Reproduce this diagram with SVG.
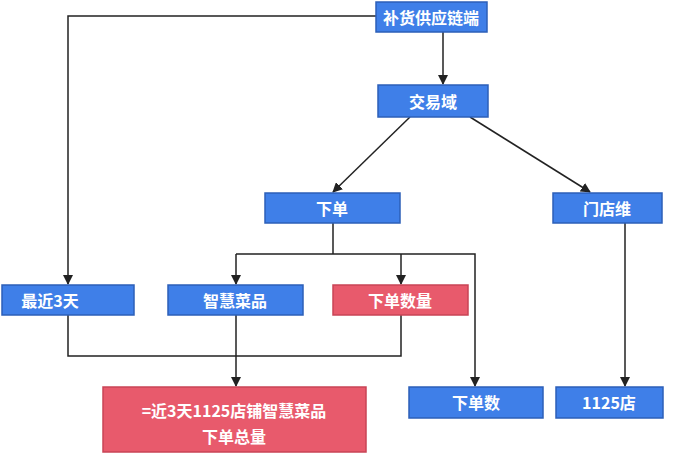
<svg xmlns="http://www.w3.org/2000/svg" width="692" height="455" viewBox="0 0 692 455">
<style>
.b{fill:#3f7fe8;stroke:#2c5fb8;stroke-width:1.5}
.r{fill:#e85a6c;stroke:#c94456;stroke-width:1.5}
text{font-family:"Noto Sans CJK SC","Noto Sans",sans-serif;font-size:16px;font-weight:bold;fill:#fff;text-anchor:middle;dominant-baseline:central}
.c line,.c polyline{stroke:#222;stroke-width:1.5;fill:none}
</style>
<defs><marker id="a" markerWidth="10" markerHeight="10" refX="9" refY="5" orient="auto" markerUnits="userSpaceOnUse"><path d="M0,0 L10,5 L0,10 z" fill="#222"/></marker></defs>
<rect width="692" height="455" fill="#fff"/>
<g class="c">
<polyline points="376,16 68,16 68,284" marker-end="url(#a)"/>
<line x1="443" y1="32" x2="443" y2="84" marker-end="url(#a)"/>
<line x1="410" y1="117" x2="333" y2="192" marker-end="url(#a)"/>
<line x1="470" y1="117" x2="590" y2="192" marker-end="url(#a)"/>
<polyline points="333,223 333,254"/>
<polyline points="236,254 475,254 475,386" marker-end="url(#a)"/>
<line x1="236" y1="254" x2="236" y2="284" marker-end="url(#a)"/>
<line x1="401" y1="254" x2="401" y2="284" marker-end="url(#a)"/>
<polyline points="68,315 68,356 401,356 401,315"/>
<line x1="236" y1="315" x2="236" y2="386" marker-end="url(#a)"/>
<line x1="625" y1="223" x2="625" y2="386" marker-end="url(#a)"/>
</g>
<g id="n1"><rect class="b" x="376" y="2" width="111" height="30"/><text x="431" y="17">补货供应链端</text></g>
<g id="n2"><rect class="b" x="378" y="85" width="110" height="32"/><text x="433" y="101">交易域</text></g>
<g id="n3"><rect class="b" x="265" y="193" width="135" height="30"/><text x="332" y="208">下单</text></g>
<g id="n4"><rect class="b" x="553" y="193" width="109" height="30"/><text x="607" y="208">门店维</text></g>
<g id="n5"><rect class="b" x="2" y="285" width="132" height="30"/><text x="50" y="300">最近3天</text></g>
<g id="n6"><rect class="b" x="168" y="285" width="135" height="30"/><text x="235" y="300">智慧菜品</text></g>
<g id="n7"><rect class="r" x="333" y="285" width="135" height="30"/><text x="400" y="300">下单数量</text></g>
<g id="n8"><rect class="r" x="103" y="387" width="263" height="65"/><text x="234" y="410">=近3天1125店铺智慧菜品</text><text x="234" y="436">下单总量</text></g>
<g id="n9"><rect class="b" x="409" y="387" width="134" height="31"/><text x="476" y="402">下单数</text></g>
<g id="n10"><rect class="b" x="556" y="387" width="107" height="31"/><text x="609" y="402">1125店</text></g>
</svg>
